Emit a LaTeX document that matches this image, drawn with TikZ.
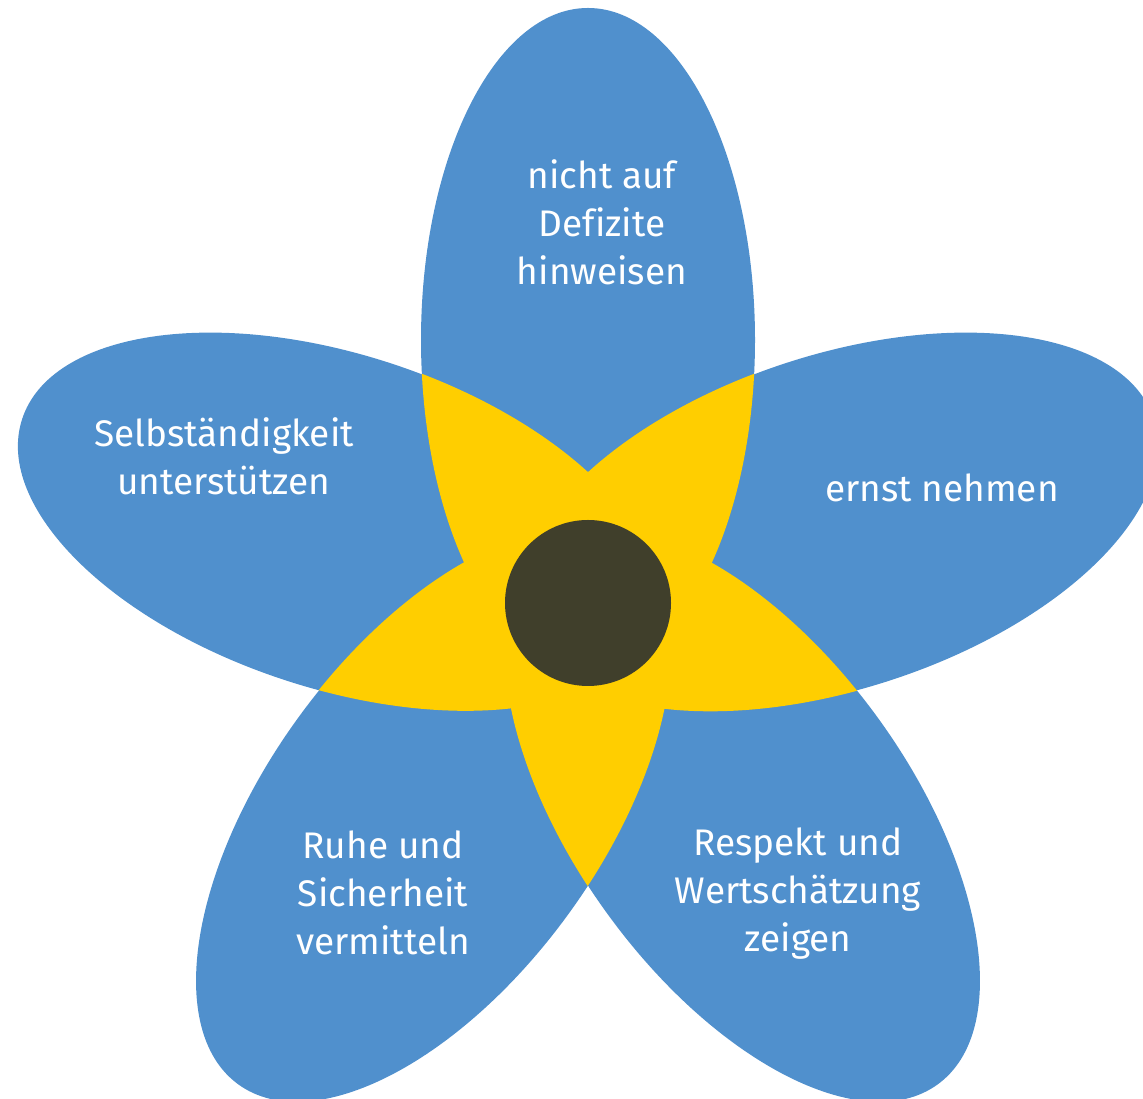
\documentclass[tikz,border=0pt]{standalone}
\usepackage{fontspec}
\setmainfont{Fira Sans}[Ligatures=NoCommon]
\definecolor{petalblue}{RGB}{80,144,205}
\definecolor{staryellow}{RGB}{255,206,0}
\definecolor{centerdark}{RGB}{64,63,43}
\tikzset{
  lbl/.style={text=white, align=center, font=\fontsize{37}{48}\selectfont, inner sep=0pt}
}
\begin{document}
\begin{tikzpicture}[x=1pt,y=1pt]
\useasboundingbox (0,0) rectangle (1143,1099);
% petals
\foreach \a in {90,162,234,306,18}{
  \fill[petalblue,shift={(588,496)},rotate=\a] (263,0) ellipse [x radius=332, y radius=167];
}
% overlaps in yellow
\foreach \a/\b in {90/162,90/234,90/306,90/18,162/234,162/306,162/18,234/306,234/18,306/18}{
  \begin{scope}
    \clip[shift={(588,496)},rotate=\a] (263,0) ellipse [x radius=332, y radius=167];
    \fill[staryellow,shift={(588,496)},rotate=\b] (263,0) ellipse [x radius=332.5, y radius=167.5];
  \end{scope}
}
\fill[centerdark] (588,496) circle [radius=83];
\node[lbl] (top) at (602,877) {nicht auf\\Defizite\\hinweisen};
\node[lbl] (left) at (224,643) {Selbständigkeit\\unterstützen};
\node[lbl] (right) at (942,611) {ernst nehmen};
\node[lbl] (bl) at (383,206) {Ruhe und\\Sicherheit\\vermitteln};
\node[lbl] (br) at (798,205) {Respekt und\\Wertschätzung\\zeigen};
\end{tikzpicture}
\end{document}
